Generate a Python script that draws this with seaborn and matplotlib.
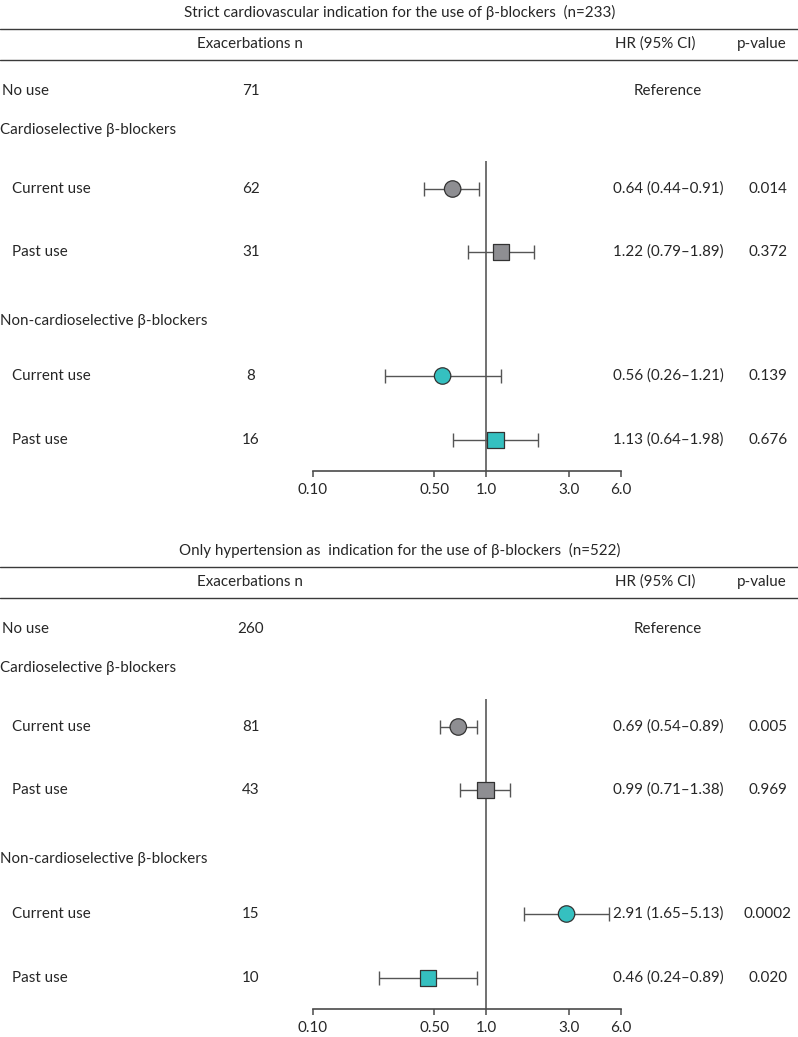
import matplotlib
matplotlib.use("Agg")
import matplotlib.pyplot as plt
from matplotlib.lines import Line2D
import numpy as np
import pandas as pd
import seaborn as sns

W, H = 798, 1037

# ---- data ----
titles = [
    "Strict cardiovascular indication for the use of \u03b2-blockers  (n=233)",
    "Only hypertension as  indication for the use of \u03b2-blockers  (n=522)",
]
groups = ["Cardioselective", "Cardioselective", "Non-cardioselective", "Non-cardioselective"]
uses = ["Current use", "Past use", "Current use", "Past use"]

no_use_n = [71, 260]
events = [[62, 31, 8, 16], [81, 43, 15, 10]]
hr = [[0.64, 1.22, 0.56, 1.13], [0.69, 0.99, 2.91, 0.46]]
ci_lo = [[0.44, 0.79, 0.26, 0.64], [0.54, 0.71, 1.65, 0.24]]
ci_hi = [[0.91, 1.89, 1.21, 1.98], [0.89, 1.38, 5.13, 0.89]]
pvals = [["0.014", "0.372", "0.139", "0.676"], ["0.005", "0.969", "0.0002", "0.020"]]

xticks = [0.10, 0.50, 1.0, 3.0, 6.0]
xtick_labels = ["0.10", "0.50", "1.0", "3.0", "6.0"]

palette = {"Cardioselective": "#8e8e92", "Non-cardioselective": "#35c0c0"}
markers = {"Current use": "o", "Past use": "s"}

# ---- layout (pixel offsets from each panel's title) ----
panel_top = [12, 550]
OFF_RULE1, OFF_HEAD, OFF_RULE2 = 17, 32, 48
OFF_NOUSE, OFF_CS = 79, 118
OFF_ROWS = [177, 240, 364, 428]
OFF_NCS = 309
OFF_VTOP, OFF_AXIS = 149, 459
X_LEFT, X_RIGHT = 313, 621

sns.set_style("white")
plt.rcParams["font.family"] = ["Lato", "DejaVu Sans"]
FS = 10.9
TXT = "#262626"

fig = plt.figure(figsize=(W / 100, H / 100), dpi=100)


def ftext(x, y, s, **kw):
    kw.setdefault("fontsize", FS)
    kw.setdefault("color", TXT)
    kw.setdefault("va", "center")
    fig.text(x / W, 1 - y / H, s, **kw)


def hrule(y):
    fig.add_artist(Line2D([0, 1], [1 - y / H, 1 - y / H], transform=fig.transFigure,
                          color="#3a3a3a", lw=1.0))


for k in range(2):
    t0 = panel_top[k]
    ftext(400, t0, titles[k], ha="center")
    hrule(t0 + OFF_RULE1)
    ftext(250, t0 + OFF_HEAD, "Exacerbations n", ha="center")
    ftext(655, t0 + OFF_HEAD, "HR (95% CI)", ha="center")
    ftext(762, t0 + OFF_HEAD, "p-value", ha="center")
    hrule(t0 + OFF_RULE2)

    ftext(2, t0 + OFF_NOUSE, "No use", ha="left")
    ftext(251, t0 + OFF_NOUSE, str(no_use_n[k]), ha="center")
    ftext(668, t0 + OFF_NOUSE, "Reference", ha="center")
    ftext(0, t0 + OFF_CS, "Cardioselective \u03b2-blockers", ha="left")
    ftext(0, t0 + OFF_NCS, "Non-cardioselective \u03b2-blockers", ha="left")

    row_y = [t0 + o for o in OFF_ROWS]
    for i in range(4):
        ftext(12, row_y[i], uses[i], ha="left")
        ftext(251, row_y[i], str(events[k][i]), ha="center")
        ftext(668, row_y[i], f"{hr[k][i]:.2f} ({ci_lo[k][i]:.2f}\u2013{ci_hi[k][i]:.2f})", ha="center")
        ftext(768, row_y[i], pvals[k][i], ha="center")

    # forest axes
    y_top, y_bot = t0 + OFF_VTOP, t0 + OFF_AXIS
    ax = fig.add_axes([X_LEFT / W, 1 - y_bot / H, (X_RIGHT - X_LEFT) / W, (y_bot - y_top) / H])
    ax.set_xscale("log")
    ax.set_xlim(0.1, 6.0)
    ax.set_ylim(y_bot, y_top)

    df = pd.DataFrame({"hr": hr[k], "lo": ci_lo[k], "hi": ci_hi[k],
                       "group": groups, "use": uses, "y": row_y})
    ax.axvline(1.0, color="#4a4a4a", lw=1.1, zorder=1)
    ax.errorbar(df["hr"], df["y"], xerr=[df["hr"] - df["lo"], df["hi"] - df["hr"]],
                fmt="none", ecolor="#555555", elinewidth=1.0, capsize=4.8, capthick=1.0, zorder=2)
    sns.scatterplot(data=df, x="hr", y="y", hue="group", style="use", palette=palette,
                    markers=markers, s=140, edgecolor="#333333", linewidth=0.9,
                    legend=False, zorder=3, ax=ax, clip_on=False)

    ax.set_xticks(xticks)
    ax.set_xticklabels(xtick_labels)
    ax.xaxis.set_minor_locator(matplotlib.ticker.NullLocator())
    ax.set_yticks([])
    ax.set_xlabel("")
    ax.set_ylabel("")
    sns.despine(ax=ax, left=True, top=True, right=True)
    ax.spines["bottom"].set_color("#4a4a4a")
    ax.spines["bottom"].set_linewidth(1.2)
    ax.tick_params(axis="x", direction="out", length=4.5, width=1.1, color="#4a4a4a",
                   labelsize=FS, labelcolor=TXT, pad=4, bottom=True)
    ax.patch.set_alpha(0)

fig.savefig("out.png", dpi=100)
